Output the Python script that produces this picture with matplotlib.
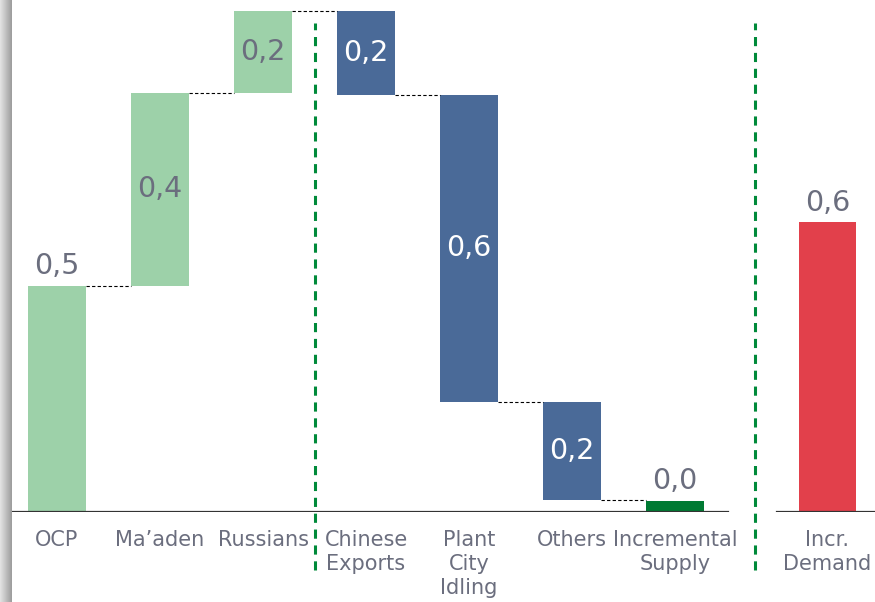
import matplotlib.pyplot as plt
import numpy as np

# waterfall data (Mt)
categories = ["OCP", "Ma\u2019aden", "Russians", "Chinese\nExports", "Plant\nCity\nIdling",
              "Others", "Incremental\nSupply", "Incr.\nDemand"]
changes = [0.476, 0.406, 0.173, -0.177, -0.646, -0.206]
incremental_supply = 0.024
incr_demand = 0.61

light_green = "#9DD1A9"
blue = "#4A6A98"
dark_green = "#007A33"
red = "#E2404B"
text_grey = "#6B6E7E"


def fmt(v):
    return ("%.1f" % abs(v)).replace(".", ",")


def main():
    fig = plt.figure(figsize=(8.75, 6.02), dpi=100)
    ax = fig.add_axes([0, 90 / 602, 1, 512 / 602])

    xs = [0, 1, 2, 3, 4, 5, 6, 7.48]
    width = 0.56

    # floating steps
    bottoms = []
    heights = []
    level = 0.0
    for c in changes:
        if c >= 0:
            bottoms.append(level)
        else:
            bottoms.append(level + c)
        heights.append(abs(c))
        level += c
    colors = [light_green] * 3 + [blue] * 3

    ax.bar(xs[:6], heights, bottom=bottoms, width=width, color=colors)
    ax.bar(xs[6], incremental_supply, width=width, color=dark_green)
    ax.bar(xs[7], incr_demand, width=width, color=red)

    # dashed connectors between the steps
    level = 0.0
    for i, c in enumerate(changes):
        level += c
        ax.plot([xs[i] + width / 2, xs[i + 1] - width / 2], [level, level],
                color="black", lw=0.8, ls=(0, (3, 2)))

    # value labels
    fs = 20.5
    placement = ["above", "inside", "inside", "inside", "inside", "inside"]
    for i, c in enumerate(changes):
        col = text_grey if c >= 0 else "white"
        if placement[i] == "above":
            ax.text(xs[i], bottoms[i] + heights[i] + 0.012, fmt(c), ha="center", va="bottom",
                    fontsize=fs, color=col)
        else:
            ax.text(xs[i], bottoms[i] + heights[i] / 2, fmt(c), ha="center", va="center",
                    fontsize=fs, color=col)
    ax.text(xs[6], incremental_supply + 0.012, fmt(incremental_supply), ha="center", va="bottom",
            fontsize=fs, color=text_grey)
    ax.text(xs[7], incr_demand + 0.012, fmt(incr_demand), ha="center", va="bottom",
            fontsize=fs, color=text_grey)

    # baselines
    ax.plot([-0.495, 6.51], [0, 0], color="#333333", lw=1.6)
    ax.plot([6.99, 8.0], [0, 0], color="#333333", lw=1.6)

    # green separators
    for sx in [2.5, 6.78]:
        ax.plot([sx, sx], [-0.122, 1.03], color="#008A3A", lw=2.2, ls=(0, (3, 2.2)),
                clip_on=False)

    ax.set_xlim(-57 / 103, 818 / 103)
    ax.set_ylim(0, 512 / 475)
    ax.set_xticks(xs, categories)
    ax.tick_params(axis="x", length=0, pad=13, labelsize=15, labelcolor=text_grey)
    for lab in ax.get_xticklabels():
        lab.set_linespacing(1.25)
    ax.set_yticks([])
    for s in ax.spines.values():
        s.set_visible(False)

    # grey edge strip on the left
    strip = fig.add_axes([0, 0, 12 / 875, 1])
    grad = np.linspace(0.88, 0.62, 12).reshape(1, -1)
    strip.imshow(grad, cmap="gray", vmin=0, vmax=1, aspect="auto")
    strip.axis("off")

    fig.savefig("out.png", dpi=100)


if __name__ == '__main__':
    main()
